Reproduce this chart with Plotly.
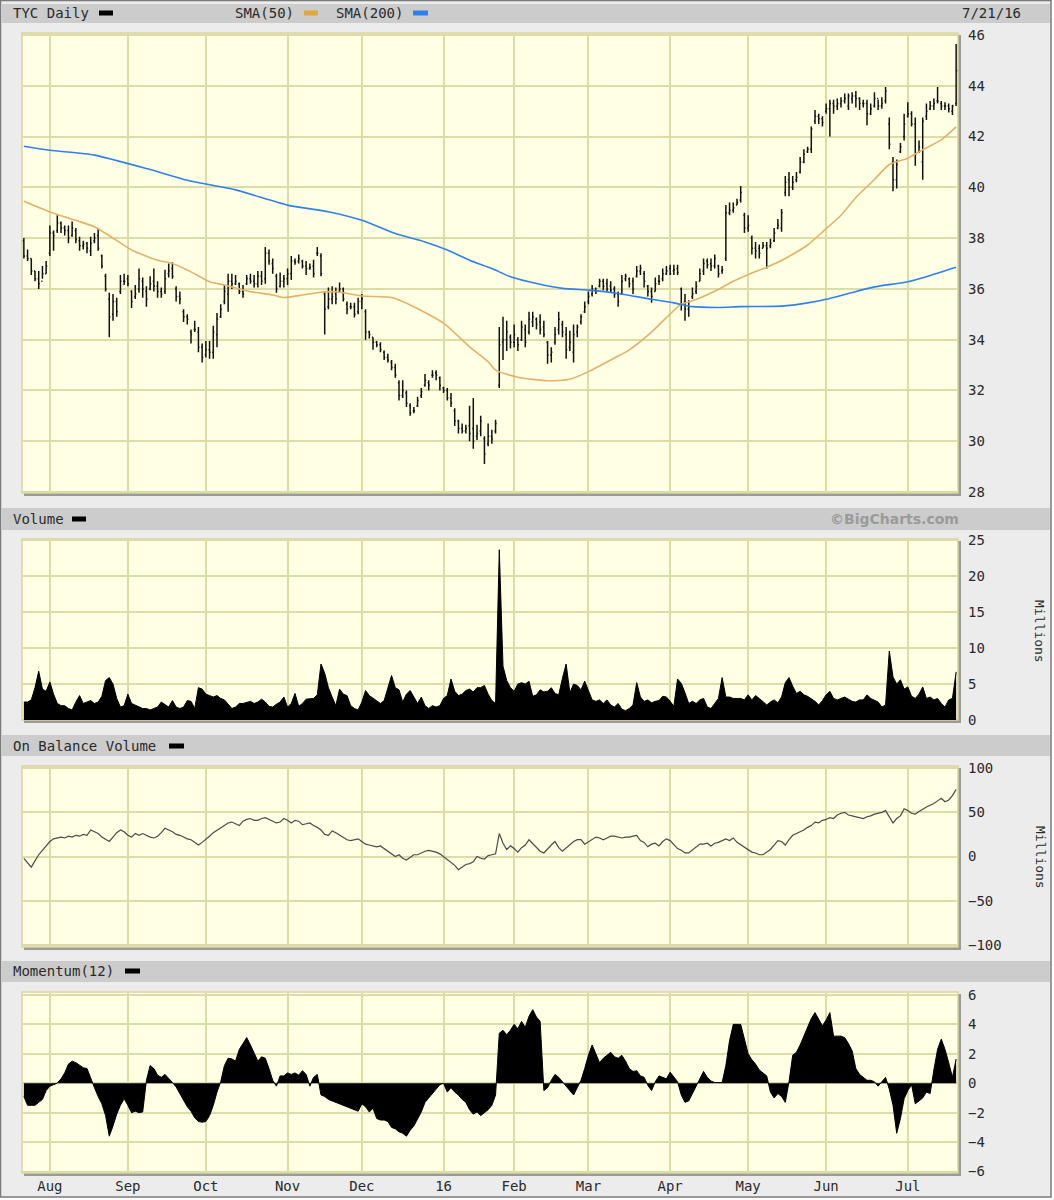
import plotly.graph_objects as go
import pandas as pd

W, H = 1054, 1200
Y_OFF = 0

# ---------------- data ----------------
first_day = "2015-07-23"
last_day = "2016-07-21"
market_holidays = ["2015-09-07", "2015-11-26", "2015-12-25", "2016-01-01", "2016-01-18",
                   "2016-02-15", "2016-03-25", "2016-05-30", "2016-07-04"]
month_labels = ["Aug", "Sep", "Oct", "Nov", "Dec", "16", "Feb", "Mar", "Apr", "May", "Jun", "Jul"]

price_open = [37.9, 37.3, 37.2, 36.7, 36.4, 36.3, 36.6, 37.4, 38.2, 38.3, 38.6, 38.4, 38.3, 38.1, 38.3, 37.9, 37.7, 37.8, 37.5, 37.9,
              38.1, 37.3, 36.5, 35.6, 35.0, 35.5, 35.9, 36.3, 36.4, 35.9, 35.7, 36.0, 36.3, 35.9, 36.0, 36.3, 36.1, 35.9, 35.9, 36.6,
              36.8, 36.0, 35.7, 35.1, 34.9, 34.3, 34.4, 34.3, 33.7, 33.4, 33.6, 33.5, 34.2, 34.9, 35.5, 35.8, 36.3, 36.2, 36.2, 35.9,
              36.2, 36.4, 36.3, 36.2, 36.5, 36.4, 37.4, 37.0, 36.5, 36.1, 36.3, 36.4, 36.6, 37.1, 37.1, 37.1, 36.9, 36.8, 36.9, 37.4,
              37.3, 35.8, 35.3, 35.6, 35.8, 35.9, 36.0, 35.4, 35.3, 35.3, 35.1, 35.5, 35.1, 34.3, 34.1, 33.9, 33.8, 33.5, 33.3, 33.1,
              32.9, 32.3, 31.8, 31.9, 31.4, 31.2, 31.4, 31.8, 32.2, 32.3, 32.6, 32.7, 32.5, 32.1, 32.0, 31.7, 31.2, 30.8, 30.5, 30.4,
              30.6, 30.5, 30.2, 30.4, 30.1, 29.9, 30.2, 30.4, 32.2, 33.9, 34.0, 34.1, 33.9, 34.0, 34.0, 34.4, 34.3, 34.7, 34.8, 34.7,
              34.5, 33.9, 33.4, 33.9, 34.4, 34.6, 34.2, 33.7, 33.5, 34.3, 34.7, 35.1, 35.5, 35.8, 36.0, 36.1, 36.3, 36.2, 36.1, 36.0,
              35.8, 35.8, 36.4, 36.4, 36.3, 36.5, 36.7, 36.6, 36.1, 35.9, 35.9, 36.3, 36.4, 36.6, 36.8, 36.7, 36.8, 36.0, 35.5, 35.2,
              35.7, 35.9, 36.3, 36.7, 37.1, 37.0, 36.9, 36.9, 36.7, 37.2, 39.0, 39.1, 39.3, 39.5, 38.9, 38.4, 38.0, 37.6, 37.6, 37.6,
              37.7, 37.7, 37.9, 38.4, 38.4, 39.8, 40.3, 40.0, 40.3, 40.6, 41.0, 41.4, 41.5, 42.6, 42.8, 42.7, 43.0, 43.1, 43.3, 43.2,
              43.3, 43.4, 43.2, 43.5, 43.6, 43.5, 43.3, 43.3, 42.9, 43.2, 43.5, 43.2, 43.4, 42.5, 41.0, 40.3, 41.4, 42.0, 42.8, 42.9,
              42.5, 41.4, 41.0, 42.8, 43.1, 43.2, 43.4, 43.3, 43.2, 43.2, 43.0, 43.3]
price_high = [38.0, 37.55, 37.2, 36.7, 36.7, 36.9, 37.1, 38.5, 38.3, 38.9, 38.65, 38.5, 38.5, 38.65, 38.4, 38.05, 37.9, 37.85, 38.05, 38.2,
              38.4, 37.35, 36.6, 35.85, 35.8, 35.65, 36.55, 36.6, 36.55, 35.95, 36.15, 36.8, 36.45, 36.1, 36.5, 36.8, 36.3, 36.05, 36.75, 37.0,
              37.05, 36.1, 35.9, 35.2, 35.0, 34.4, 34.75, 34.5, 33.85, 33.95, 33.95, 34.55, 35.05, 35.4, 36.15, 36.6, 36.6, 36.55, 36.25, 36.15,
              36.55, 36.6, 36.55, 36.7, 36.7, 37.65, 37.55, 37.2, 36.6, 36.65, 36.55, 36.8, 37.3, 37.2, 37.35, 37.15, 37.1, 37.0, 37.15, 37.65,
              37.4, 35.9, 36.05, 36.1, 36.05, 36.25, 36.05, 35.5, 35.45, 35.45, 35.65, 35.8, 35.2, 34.35, 34.1, 33.95, 33.9, 33.57, 33.45, 33.2,
              33.05, 32.4, 32.4, 32.0, 31.5, 31.35, 31.75, 32.1, 32.65, 32.4, 32.8, 32.8, 32.55, 32.15, 32.1, 31.9, 31.3, 30.85, 30.7, 30.65,
              31.4, 31.7, 30.65, 31.0, 30.2, 30.7, 30.45, 30.85, 34.5, 34.9, 34.75, 34.2, 34.6, 34.1, 34.75, 34.6, 35.1, 35.1, 34.87, 35.0,
              34.75, 33.95, 33.7, 34.5, 35.1, 34.75, 34.5, 34.35, 34.6, 34.6, 35.0, 35.5, 35.9, 36.15, 36.05, 36.4, 36.4, 36.4, 36.3, 36.1,
              35.9, 36.55, 36.6, 36.45, 36.45, 36.9, 36.95, 36.7, 36.15, 36.05, 36.45, 36.55, 36.8, 36.9, 36.95, 36.95, 36.95, 36.05, 35.8, 35.55,
              36.05, 36.3, 36.8, 37.2, 37.2, 37.2, 37.35, 36.95, 36.9, 39.3, 39.4, 39.4, 39.55, 40.05, 39.0, 38.9, 38.1, 37.85, 37.75, 37.85,
              37.85, 37.98, 38.4, 38.75, 39.15, 40.45, 40.6, 40.45, 40.6, 41.2, 41.5, 41.6, 42.4, 43.05, 42.9, 42.8, 43.3, 43.45, 43.45, 43.5,
              43.55, 43.7, 43.7, 43.75, 43.8, 43.55, 43.45, 43.45, 43.3, 43.75, 43.45, 43.55, 43.95, 42.75, 41.2, 41.1, 41.75, 42.9, 43.35, 43.0,
              42.75, 41.85, 42.75, 43.3, 43.4, 43.5, 43.95, 43.4, 43.35, 43.3, 43.25, 45.65]
price_low = [37.2, 37.1, 36.55, 36.3, 36.0, 36.4, 36.6, 37.3, 37.5, 38.2, 38.2, 38.1, 37.8, 38.05, 37.8, 37.5, 37.55, 37.4, 37.3, 37.8,
             37.5, 36.8, 35.9, 34.1, 34.75, 34.9, 35.8, 36.15, 36.1, 35.25, 35.6, 35.85, 35.65, 35.3, 35.95, 35.9, 35.65, 35.65, 35.8, 36.45,
             36.4, 35.5, 35.4, 34.7, 34.6, 33.85, 34.3, 33.5, 33.1, 33.3, 33.25, 33.25, 33.7, 34.85, 35.4, 35.1, 36.0, 36.15, 35.8, 35.65,
             36.15, 36.2, 36.05, 36.05, 36.15, 36.2, 36.95, 36.6, 35.85, 36.05, 36.05, 36.15, 36.35, 36.95, 37.0, 36.8, 36.55, 36.75, 36.45, 37.3,
             36.5, 34.2, 35.2, 35.4, 35.4, 35.85, 35.5, 35.0, 35.2, 34.87, 35.0, 35.2, 34.0, 34.05, 33.6, 33.7, 33.5, 33.2, 33.1, 32.8,
             32.5, 31.6, 31.7, 31.35, 31.0, 31.1, 31.35, 31.7, 32.15, 32.0, 32.5, 32.4, 32.0, 31.9, 31.6, 31.35, 30.6, 30.3, 30.3, 30.3,
             30.0, 29.7, 30.05, 30.2, 29.1, 29.8, 29.9, 30.3, 32.1, 33.2, 33.55, 33.65, 33.7, 33.55, 33.95, 33.7, 34.2, 34.5, 34.4, 34.2,
             34.1, 33.05, 33.1, 33.8, 34.2, 34.1, 33.25, 33.55, 33.1, 34.1, 34.6, 35.05, 35.4, 35.7, 35.8, 36.05, 35.95, 35.9, 35.85, 35.65,
             35.3, 35.8, 36.3, 36.05, 35.8, 36.45, 36.55, 36.05, 35.7, 35.45, 35.9, 36.15, 36.3, 36.55, 36.55, 36.55, 36.55, 35.15, 34.75, 34.9,
             35.6, 35.8, 36.3, 36.55, 36.8, 36.7, 36.8, 36.45, 36.6, 37.1, 38.9, 39.0, 39.3, 39.4, 38.2, 38.25, 37.35, 37.2, 37.2, 37.6,
             36.8, 37.6, 37.85, 38.35, 38.25, 39.65, 39.65, 39.9, 40.2, 40.55, 40.95, 41.35, 41.35, 42.5, 42.5, 42.4, 42.9, 42.0, 42.9, 43.05,
             43.15, 43.3, 43.05, 43.3, 43.15, 43.05, 43.15, 42.45, 42.85, 43.15, 43.05, 43.1, 43.3, 41.5, 39.85, 39.95, 41.35, 41.85, 42.75, 42.4,
             40.85, 41.35, 40.3, 42.65, 43.05, 43.05, 43.3, 43.05, 43.05, 42.95, 42.85, 43.2]
price_close = [37.3, 37.2, 36.7, 36.4, 36.2, 36.6, 36.9, 38.2, 38.1, 38.6, 38.4, 38.3, 38.0, 38.4, 37.95, 37.7, 37.75, 37.6, 37.8, 38.0,
               37.6, 36.9, 36.0, 34.9, 35.5, 35.1, 36.3, 36.3, 36.2, 35.5, 35.8, 36.4, 36.0, 35.6, 36.2, 36.1, 35.9, 35.8, 36.4, 36.7,
               36.5, 35.7, 35.6, 34.9, 34.8, 34.2, 34.4, 33.7, 33.3, 33.6, 33.5, 34.3, 34.8, 35.2, 35.9, 36.3, 36.2, 36.3, 35.9, 35.8,
               36.4, 36.3, 36.2, 36.5, 36.3, 37.4, 37.1, 36.8, 36.0, 36.3, 36.4, 36.6, 37.1, 37.05, 37.2, 36.9, 36.8, 36.85, 36.6, 37.4,
               36.6, 35.2, 35.6, 35.7, 35.6, 36.0, 35.6, 35.2, 35.3, 35.0, 35.5, 35.6, 34.3, 34.2, 33.9, 33.8, 33.6, 33.3, 33.2, 32.9,
               32.6, 31.8, 32.0, 31.5, 31.1, 31.2, 31.6, 31.95, 32.4, 32.2, 32.6, 32.6, 32.2, 32.0, 31.7, 31.5, 30.8, 30.5, 30.4, 30.5,
               30.3, 30.0, 30.3, 30.8, 29.5, 30.2, 30.1, 30.7, 33.8, 34.0, 34.3, 33.9, 34.2, 33.8, 34.5, 33.9, 34.8, 34.9, 34.6, 34.4,
               34.2, 33.4, 33.5, 34.2, 34.8, 34.3, 33.6, 33.9, 34.2, 34.5, 34.9, 35.3, 35.7, 36.0, 35.9, 36.3, 36.1, 36.0, 35.95, 35.8,
               35.5, 36.3, 36.5, 36.2, 36.0, 36.7, 36.8, 36.3, 35.9, 35.7, 36.2, 36.3, 36.6, 36.7, 36.6, 36.75, 36.65, 35.4, 35.2, 35.3,
               35.8, 36.1, 36.6, 37.0, 36.95, 36.9, 37.2, 36.6, 36.75, 39.0, 39.1, 39.2, 39.4, 39.8, 38.4, 38.5, 37.6, 37.5, 37.4, 37.7,
               37.6, 37.8, 38.2, 38.5, 39.0, 40.2, 40.0, 40.2, 40.4, 41.0, 41.3, 41.5, 42.3, 42.8, 42.7, 42.55, 43.1, 43.3, 43.2, 43.3,
               43.4, 43.5, 43.6, 43.6, 43.5, 43.3, 43.3, 42.9, 43.1, 43.5, 43.2, 43.3, 43.8, 41.7, 40.3, 40.9, 41.6, 42.5, 42.9, 42.5,
               41.3, 41.6, 42.6, 43.0, 43.2, 43.3, 43.4, 43.2, 43.2, 43.1, 43.2, 44.6]

sma50_day = [0, 7, 14, 19, 24, 29, 36, 40, 45, 50, 54, 61, 67, 70, 75, 79, 84, 91, 99, 105, 113, 120, 125, 127,
             133, 141, 147, 152, 159, 163, 169, 177, 180, 186, 191, 196, 200, 205, 211, 215, 220, 224, 229, 233,
             238, 242, 247, 251]
sma50_value = [39.45, 39.03, 38.7, 38.45, 38.0, 37.53, 37.13, 37.0, 36.67, 36.28, 36.15, 35.89, 35.76, 35.66, 35.76,
               35.85, 35.89, 35.72, 35.66, 35.3, 34.65, 33.72, 33.13, 32.8, 32.52, 32.38, 32.44, 32.74, 33.28, 33.6,
               34.3, 35.4, 35.53, 35.91, 36.3, 36.63, 36.85, 37.2, 37.73, 38.24, 38.9, 39.6, 40.31, 40.9, 41.15, 41.48,
               41.87, 42.38]
sma200_day = [0, 7, 19, 34, 44, 57, 71, 82, 91, 100, 108, 114, 120, 126, 131, 136, 145, 152, 160, 169, 175, 180, 187,
              193, 204, 211, 216, 222, 229, 238, 243, 251]
sma200_value = [41.62, 41.46, 41.27, 40.7, 40.28, 39.9, 39.3, 39.04, 38.7, 38.18, 37.85, 37.53, 37.13, 36.8, 36.48,
                36.28, 36.02, 35.95, 35.82, 35.59, 35.45, 35.3, 35.27, 35.3, 35.32, 35.45, 35.59, 35.82, 36.08, 36.28,
                36.48, 36.85]

volume_millions = [2.5, 2.5, 2.8, 4.5, 6.8, 4.3, 4.0, 5.3, 3.6, 2.3, 2.0, 2.0, 1.6, 1.4, 2.5, 3.4, 2.3, 2.5, 2.7, 2.3,
                   2.5, 3.3, 5.5, 5.9, 5.0, 3.0, 1.8, 2.0, 3.6, 2.3, 2.1, 1.8, 1.6, 1.6, 1.4, 1.6, 1.8, 2.5, 2.1, 1.8,
                   2.7, 1.8, 1.6, 1.8, 2.7, 2.6, 1.6, 4.5, 4.3, 3.6, 3.4, 3.2, 3.4, 3.0, 2.8, 2.2, 1.6, 1.8, 2.3, 2.3,
                   2.5, 2.6, 2.3, 2.5, 2.9, 2.5, 1.9, 1.8, 2.2, 2.5, 3.2, 1.8, 2.3, 3.7, 1.9, 2.3, 2.9, 3.0, 3.0, 3.5,
                   7.8, 6.5, 4.5, 3.2, 2.0, 4.3, 3.6, 3.4, 2.0, 1.6, 1.4, 2.5, 4.1, 3.4, 3.0, 2.7, 2.3, 2.7, 4.5, 6.2,
                   4.5, 4.2, 2.5, 3.6, 4.1, 3.2, 2.3, 3.2, 2.0, 1.6, 2.0, 1.8, 2.0, 3.0, 3.4, 5.7, 4.0, 3.4, 3.6, 4.1,
                   4.3, 3.9, 4.5, 4.5, 4.8, 3.6, 2.7, 2.3, 23.7, 7.5, 5.5, 4.5, 4.0, 5.0, 5.2, 5.0, 5.4, 3.3, 3.5, 4.2,
                   3.9, 4.0, 4.5, 3.7, 3.5, 5.8, 7.8, 3.8, 5.0, 4.8, 4.2, 5.4, 4.2, 2.8, 2.6, 2.8, 2.3, 2.8, 2.1, 1.8,
                   2.3, 1.5, 1.3, 1.6, 2.1, 5.2, 3.2, 2.6, 2.8, 2.4, 2.6, 2.7, 3.3, 3.2, 2.6, 1.9, 5.7, 5.1, 3.8, 2.3,
                   2.6, 2.3, 2.8, 3.0, 1.8, 1.6, 2.3, 3.0, 5.9, 3.2, 3.2, 3.0, 3.0, 3.0, 2.8, 3.5, 2.8, 3.4, 3.0, 2.5,
                   2.1, 2.5, 2.8, 2.4, 3.2, 5.2, 5.9, 4.7, 3.7, 4.0, 3.5, 3.3, 3.0, 2.6, 2.1, 2.7, 3.5, 4.0, 3.0, 2.8,
                   3.0, 3.2, 2.9, 2.6, 2.5, 2.8, 2.8, 3.5, 3.0, 2.8, 2.5, 1.8, 2.1, 9.6, 6.0, 5.0, 5.6, 4.3, 4.6, 3.3,
                   3.0, 3.6, 4.6, 3.0, 3.2, 2.8, 3.0, 2.3, 1.8, 2.8, 3.0, 6.7]

obv_millions = [-2, -7, -12, -5, 2, 7, 12, 17, 20, 21, 22, 21, 23, 22, 24, 23, 25, 24, 30, 28,
                26, 22, 19, 17, 22, 27, 30, 28, 24, 22, 26, 24, 26, 24, 22, 21, 23, 27, 32, 30,
                28, 25, 24, 22, 20, 19, 16, 13, 16, 19, 23, 27, 30, 33, 36, 38, 39, 37, 35, 40,
                42, 43, 41, 41, 43, 44, 42, 40, 38, 39, 43, 41, 38, 41, 40, 36, 37, 38, 35, 33,
                30, 25, 24, 29, 27, 24, 22, 19, 18, 19, 20, 17, 14, 13, 12, 11, 12, 9, 7, 3,
                0, 2, -2, -4, -1, 2, 2, 4, 6, 7, 6, 5, 3, 0, -3, -6, -10, -15, -12, -9,
                -8, -6, 0, -2, -3, 1, 2, 3, 26, 15, 8, 12, 9, 5, 10, 13, 19, 15, 11, 6,
                4, 9, 13, 17, 10, 6, 10, 14, 17, 19, 19, 14, 17, 19, 22, 21, 19, 21, 23, 23,
                22, 21, 22, 22, 23, 24, 18, 16, 11, 14, 15, 12, 17, 20, 18, 14, 9, 7, 4, 4,
                7, 11, 14, 14, 15, 12, 15, 16, 18, 20, 18, 21, 16, 13, 11, 8, 5, 4, 2, 2,
                5, 8, 13, 18, 17, 13, 19, 24, 26, 28, 30, 33, 35, 39, 38, 41, 42, 44, 43, 47,
                49, 50, 47, 46, 45, 44, 43, 45, 46, 48, 49, 50, 52, 45, 38, 43, 46, 54, 52, 49,
                48, 51, 54, 56, 58, 60, 63, 66, 62, 64, 69, 76]

momentum_12 = [-0.9, -1.5, -1.5, -1.5, -1.3, -1.1, -0.5, -0.2, -0.1, 0.0, 0.3, 0.7, 1.3, 1.5, 1.4, 1.2, 1.05, 1.0, 0.3, -0.3,
               -0.9, -1.4, -2.2, -3.6, -2.9, -2.1, -1.5, -1.05, -1.5, -2.0, -1.9, -2.0, -1.95, 0.2, 1.2, 1.0, 0.55, 0.4, 0.6, 0.35,
               0.05, -0.25, -0.7, -1.2, -1.6, -1.9, -2.35, -2.6, -2.65, -2.6, -2.2, -1.5, -0.6, 0.1, 1.2, 1.7, 1.65, 1.5, 2.3, 2.7,
               3.1, 2.6, 2.1, 1.5, 1.8, 1.7, 1.0, 0.2, -0.2, 0.5, 0.5, 0.7, 0.6, 0.7, 0.55, 0.85, 0.6, -0.2, 0.4, 0.6,
               -0.8, -0.9, -1.1, -1.2, -1.35, -1.45, -1.5, -1.6, -1.7, -1.85, -1.9, -1.4, -1.6, -1.95, -1.7, -2.4, -2.5, -2.5, -2.6, -3.0,
               -3.1, -3.3, -3.4, -3.6, -3.2, -2.9, -2.4, -1.95, -1.3, -1.0, -0.7, -0.4, -0.1, 0.0, -0.6, -0.3, -0.6, -0.8, -1.1, -1.3,
               -1.8, -2.1, -1.95, -2.2, -2.0, -1.8, -1.5, -0.8, 3.4, 3.6, 3.3, 3.6, 4.0, 3.7, 4.2, 3.8, 4.55, 5.0, 4.5, 4.2,
               -0.5, -0.3, 0.2, 0.6, 0.4, 0.1, -0.2, -0.5, -0.8, -0.3, 0.2, 1.0, 1.9, 2.6, 2.0, 1.4, 1.7, 1.9, 2.1, 1.8,
               1.7, 1.9, 1.5, 1.0, 0.8, 0.85, 0.5, 0.4, -0.15, -0.5, 0.1, 0.5, 0.4, 0.3, 0.75, 0.4, 0.1, -0.8, -1.3, -1.2,
               -0.7, -0.1, 0.3, 0.8, 0.4, 0.15, 0.05, 0.05, 0.05, 1.2, 2.9, 4.0, 4.0, 4.0, 3.0, 2.0, 1.6, 1.3, 0.9, 0.7,
               0.5, -0.6, -1.0, -0.7, -0.9, -1.3, 0.1, 1.9, 2.1, 2.6, 3.2, 3.9, 4.4, 4.8, 4.3, 3.9, 4.3, 4.8, 3.2, 3.2,
               3.2, 3.1, 2.7, 2.2, 1.0, 0.6, 0.4, 0.2, 0.2, 0.1, -0.2, 0.1, 0.4, -0.4, -1.5, -3.4, -2.4, -1.05, -0.5, -0.1,
               -1.4, -1.2, -1.0, -0.6, -0.7, 0.9, 2.3, 3.0, 2.3, 1.4, 0.4, 1.65]

# ---------------- calendar / ticks ----------------
days = pd.bdate_range(first_day, last_day)
days = days[~days.isin(pd.to_datetime(market_holidays))]
n = min(len(days), len(price_close))
days = days[:n]
day_idx = list(range(n))
month_start_idx = [i for i in range(1, n) if days[i].month != days[i - 1].month]
month_start_idx = month_start_idx[:len(month_labels)]

# ---------------- layout geometry (page pixels) ----------------
PX_L, PX_R = 22, 958
panels = {  # top, bottom in page px
    "price": (33, 493),
    "vol": (539, 720),
    "obv": (766, 947),
    "mom": (992, 1173),
}
bands = [(4, 23), (508, 530), (735, 756), (961, 982)]


def fx(x):
    return x / W


def fy(y):
    return 1 - (y - Y_OFF) / H


PAGE_BG = "#ececec"
BAND = "#cccccc"
PLOT_BG = "#ffffe3"
GRID = "#dcdca6"
TXT = "#2a2a2a"
MONO = "DejaVu Sans Mono"

fig = go.Figure()

fig.add_trace(go.Ohlc(
    x=day_idx, open=price_open[:n], high=price_high[:n], low=price_low[:n], close=price_close[:n],
    increasing=dict(line=dict(color="#111111", width=1.5)),
    decreasing=dict(line=dict(color="#111111", width=1.5)),
    tickwidth=0.3, xaxis="x", yaxis="y", showlegend=False, hoverinfo="skip"))
fig.add_trace(go.Scatter(x=sma50_day, y=sma50_value, mode="lines",
                         line=dict(color="#e2b26a", width=1.6, shape="spline", smoothing=0.6),
                         xaxis="x", yaxis="y", showlegend=False, hoverinfo="skip"))
fig.add_trace(go.Scatter(x=sma200_day, y=sma200_value, mode="lines",
                         line=dict(color="#2f80ee", width=1.6, shape="spline", smoothing=0.6),
                         xaxis="x", yaxis="y", showlegend=False, hoverinfo="skip"))

fig.add_trace(go.Scatter(x=day_idx, y=volume_millions[:n], mode="lines", fill="tozeroy",
                         fillcolor="#000000", line=dict(color="#000000", width=1),
                         xaxis="x2", yaxis="y2", showlegend=False, hoverinfo="skip"))
fig.add_trace(go.Scatter(x=day_idx, y=obv_millions[:n], mode="lines",
                         line=dict(color="#4a4a4a", width=1.2),
                         xaxis="x3", yaxis="y3", showlegend=False, hoverinfo="skip"))
fig.add_trace(go.Scatter(x=day_idx, y=momentum_12[:n], mode="lines", fill="tozeroy",
                         fillcolor="#000000", line=dict(color="#000000", width=1),
                         xaxis="x4", yaxis="y4", showlegend=False, hoverinfo="skip"))

tick_font = dict(family=MONO, size=14, color=TXT)


def xaxis_cfg(anchor, labels):
    return dict(domain=[fx(PX_L), fx(PX_R)], anchor=anchor, range=[-0.5, n - 0.5],
                tickmode="array", tickvals=month_start_idx,
                ticktext=month_labels[:len(month_start_idx)],
                showticklabels=labels, ticks="", showgrid=True, gridcolor=GRID, gridwidth=2,
                zeroline=False, showline=False, fixedrange=True, automargin=False,
                rangeslider=dict(visible=False), tickfont=tick_font, ticklabelstandoff=3)


def yaxis_cfg(panel, rng, vals):
    top, bot = panels[panel]
    return dict(domain=[fy(bot), fy(top)], range=rng, side="right", tickmode="array",
                tickvals=vals, showgrid=True, gridcolor=GRID, gridwidth=2, zeroline=False,
                showline=False, ticks="", fixedrange=True, automargin=False,
                tickfont=tick_font, ticklabelstandoff=9)


price_ticks = list(range(28, 47, 2))
vol_ticks = [0, 5, 10, 15, 20, 25]
obv_ticks = [-100, -50, 0, 50, 100]
mom_ticks = [-6, -4, -2, 0, 2, 4, 6]

shapes = []
shapes.append(dict(type="rect", xref="paper", yref="paper", x0=fx(0.5), x1=fx(1051), y0=fy(1197), y1=fy(0.5),
                   fillcolor=PAGE_BG, line=dict(color="#7a7a7a", width=1.5), layer="below"))
for (t, b) in bands:
    shapes.append(dict(type="rect", xref="paper", yref="paper", x0=fx(2), x1=fx(1050), y0=fy(b), y1=fy(t),
                       fillcolor=BAND, line=dict(width=0), layer="below"))
for key, (t, b) in panels.items():
    shapes.append(dict(type="rect", xref="paper", yref="paper", x0=fx(PX_L + 2), x1=fx(PX_R + 3),
                       y0=fy(b + 3), y1=fy(t + 2), fillcolor="#9a9a9a", line=dict(width=0), layer="below"))
    shapes.append(dict(type="rect", xref="paper", yref="paper", x0=fx(PX_L), x1=fx(PX_R),
                       y0=fy(b), y1=fy(t), fillcolor=PLOT_BG, line=dict(color="#d8d49c", width=1.5),
                       layer="below"))

for (x0, x1, yc, col) in [(99, 113, 13, "#000000"), (304, 318, 13, "#e2a640"), (413, 428, 13, "#2f80ee"),
                          (72, 86, 519, "#000000"), (169, 184, 746, "#000000"), (125, 140, 971, "#000000")]:
    shapes.append(dict(type="rect", xref="paper", yref="paper", x0=fx(x0), x1=fx(x1), y0=fy(yc + 2.5),
                       y1=fy(yc - 2.5), fillcolor=col, line=dict(width=0)))

head_font = dict(family=MONO, size=14, color=TXT)
annotations = []


def txt(x, y, s, anchor="left", font=head_font, angle=0):
    annotations.append(dict(x=fx(x), y=fy(y), xref="paper", yref="paper", text=s, showarrow=False,
                            xanchor=anchor, yanchor="middle", font=font, textangle=angle))


txt(11, 13, "TYC Daily")
txt(233, 13, "SMA(50)")
txt(334, 13, "SMA(200)")
txt(1023, 13, "7/21/16", anchor="right")
txt(11, 519, "Volume")
txt(961, 519, "©BigCharts.com", anchor="right",
    font=dict(family="DejaVu Sans", size=14, color="#9a9a9a", weight="bold"))
txt(11, 746, "On Balance Volume")
txt(11, 971, "Momentum(12)")
txt(1040, 631, "Millions", anchor="center", angle=90, font=dict(family=MONO, size=13, color=TXT))
txt(1040, 857, "Millions", anchor="center", angle=90, font=dict(family=MONO, size=13, color=TXT))

fig.update_layout(
    width=W, height=H, margin=dict(l=0, r=0, t=0, b=0, pad=0, autoexpand=False),
    paper_bgcolor="#ffffff", plot_bgcolor="rgba(0,0,0,0)",
    showlegend=False,
    xaxis=xaxis_cfg("y", False),
    xaxis2=xaxis_cfg("y2", False),
    xaxis3=xaxis_cfg("y3", False),
    xaxis4=xaxis_cfg("y4", True),
    yaxis=yaxis_cfg("price", [27.96, 46.08], price_ticks),
    yaxis2=yaxis_cfg("vol", [0, 25.2], vol_ticks),
    yaxis3=yaxis_cfg("obv", [-102.5, 102.5], obv_ticks),
    yaxis4=yaxis_cfg("mom", [-6.1, 6.2], mom_ticks),
    shapes=shapes, annotations=annotations,
)

fig.write_html("out.html", config={"displayModeBar": False},
               post_script="document.body.style.margin='0';")
